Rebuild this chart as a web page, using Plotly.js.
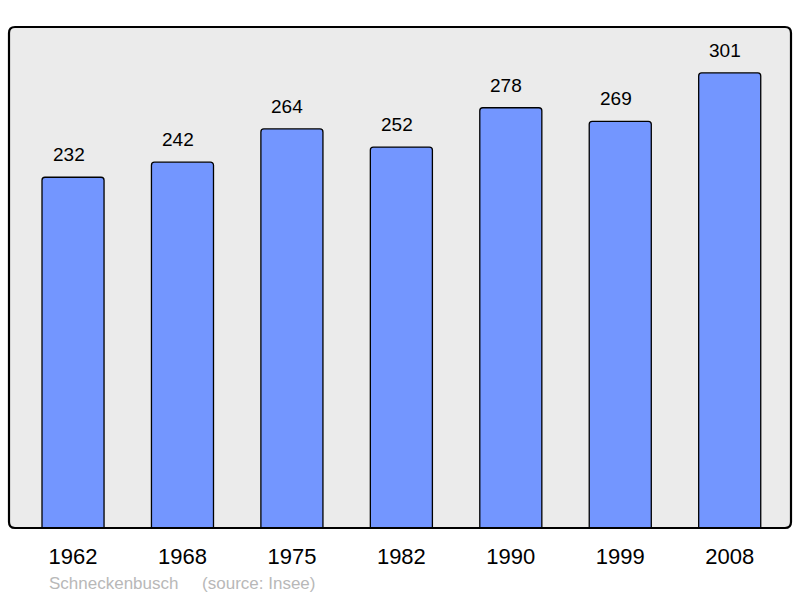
<!DOCTYPE html>
<html><head><meta charset="utf-8">
<script src="https://cdn.plot.ly/plotly-3.0.1.min.js"></script>
<style>html,body{margin:0;padding:0;background:#fff}#c{width:800px;height:598px}</style>
</head><body><div id="c"></div>
<script>
const years = ["1962","1968","1975","1982","1990","1999","2008"];
const population = [232,242,264,252,278,269,301];
const sourceText = "Schneckenbusch\u00a0\u00a0\u00a0\u00a0\u00a0(source: Insee)";

const W=800,H=598,ml=9,mr=9,mt=27,mb=70;
const pw=W-ml-mr, ph=H-mt-mb;
const r=6, rx=r/pw, ry=r/ph;
function roundRect(){
  return `M ${rx},0 L ${1-rx},0 Q 1,0 1,${ry} L 1,${1-ry} Q 1,1 ${1-rx},1 L ${rx},1 Q 0,1 0,${1-ry} L 0,${ry} Q 0,0 ${rx},0 Z`;
}
const font="Liberation Sans, Arial, sans-serif";
const trace={type:'bar',x:years,y:population,width:0.567,
  marker:{color:'#7396ff',line:{color:'#000',width:1.3},cornerradius:3},
  hoverinfo:'skip'};
const ann=years.map((yr,i)=>({x:i,y:population[i],text:String(population[i]),showarrow:false,
  xref:'x',yref:'y',yanchor:'bottom',yshift:10,xshift:-4.5,font:{family:font,size:19,color:'#000'}}));
ann.push({xref:'paper',yref:'paper',x:(47-ml)/pw,y:-(583-(mt+ph))/ph,xanchor:'left',yanchor:'middle',
  text:sourceText,showarrow:false,font:{family:font,size:17,color:'#b8b8b8'}});
const layout={width:W,height:H,margin:{l:ml,r:mr,t:mt,b:mb,pad:0},
  paper_bgcolor:'#fff',plot_bgcolor:'rgba(0,0,0,0)',showlegend:false,
  xaxis:{type:'category',range:[-0.585,6.56],showgrid:false,zeroline:false,showline:false,ticks:'',
    tickfont:{family:font,size:22,color:'#000'},ticklabelstandoff:13,fixedrange:true},
  yaxis:{range:[0,331.4],showgrid:false,zeroline:false,showline:false,showticklabels:false,ticks:'',fixedrange:true},
  shapes:[
    {type:'path',xref:'paper',yref:'paper',path:roundRect(),fillcolor:'#ebebeb',line:{width:0},layer:'below'},
    {type:'path',xref:'paper',yref:'paper',path:roundRect(),fillcolor:'rgba(0,0,0,0)',line:{color:'#000',width:2.2},layer:'above'}
  ],
  annotations:ann};
Plotly.newPlot('c',[trace],layout,{staticPlot:true,displayModeBar:false});
</script></body></html>
